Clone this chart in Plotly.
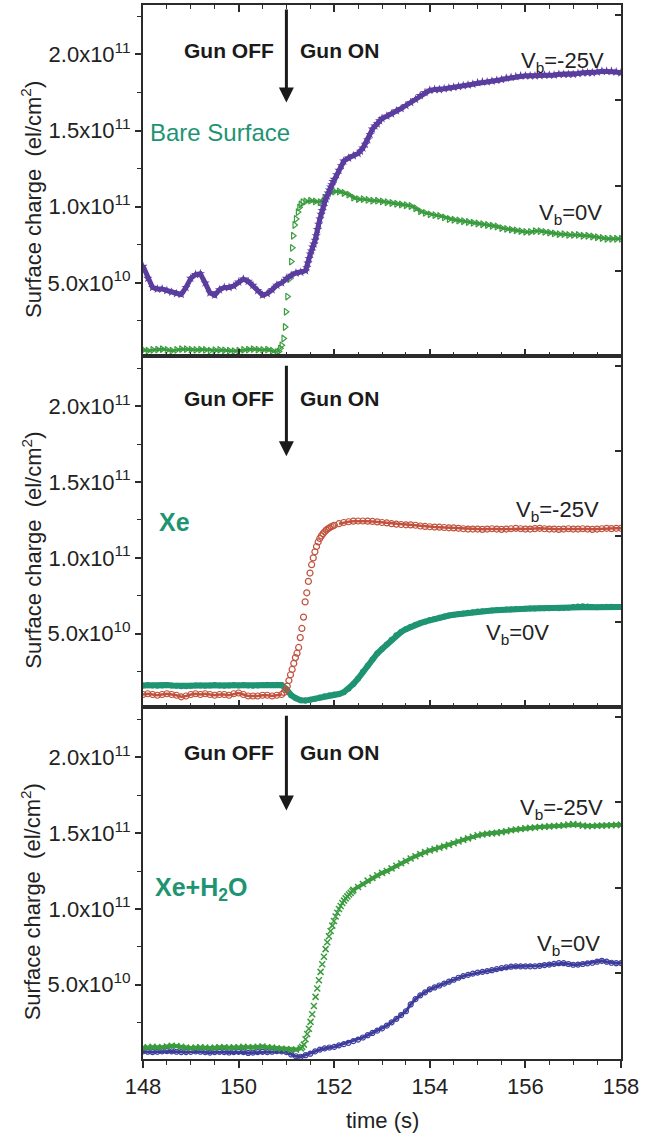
import plotly.graph_objects as go

# ---------------- data (surface charge in units of 1e10 el/cm^2) ----------------
# common 0.1 s sampling grid, 148.0 ... 158.0 s
t_grid = [round(148.0 + 0.1 * i, 1) for i in range(101)]

# Panel 1: Bare surface
bare_vb25 = [6.1, 5.3, 4.7, 4.6, 4.6, 4.5, 4.4, 4.3, 4.25, 4.7,
             5.3, 5.55, 5.6, 5.0, 4.35, 4.2, 4.55, 4.7, 4.7, 4.8,
             5.05, 5.25, 5.1, 4.85, 4.5, 4.2, 4.3, 4.55, 4.85, 5.0,
             5.3, 5.5, 5.65, 5.7, 5.8, 6.9, 7.8, 9.2, 10.3, 11.1,
             11.8, 12.4, 13.0, 13.2, 13.35, 13.5, 13.85, 14.4, 15.1, 15.45,
             15.8, 15.95, 16.1, 16.3, 16.45, 16.65, 16.85, 17.05, 17.3, 17.5,
             17.65, 17.7, 17.7, 17.75, 17.8, 17.85, 17.9, 17.95, 18.0, 18.05,
             18.15, 18.2, 18.2, 18.25, 18.3, 18.35, 18.45, 18.5, 18.55, 18.6,
             18.6, 18.6, 18.6, 18.62, 18.65, 18.65, 18.65, 18.7, 18.7, 18.7,
             18.7, 18.75, 18.8, 18.8, 18.8, 18.85, 18.9, 18.9, 18.9, 18.85,
             18.8]
bare_vb25_rise_t = [151.425, 151.45, 151.475, 151.525, 151.55, 151.575, 151.625, 151.65,
                    151.675, 151.725, 151.75, 151.775, 151.825, 151.85, 151.875, 151.925,
                    151.95, 151.975, 152.05, 152.15, 152.55, 152.65, 152.75, 152.85, 152.95]
bare_vb25_rise_v = [6.0, 6.3, 6.6, 7.1, 7.35, 7.55, 8.1, 8.5,
                    8.85, 9.5, 9.75, 10.0, 10.5, 10.7, 10.9, 11.3,
                    11.45, 11.65, 12.1, 12.7, 13.65, 14.1, 14.75, 15.3, 15.65]

bare_vb0 = [0.6, 0.55, 0.6, 0.62, 0.65, 0.6, 0.55, 0.6, 0.65, 0.65,
            0.62, 0.6, 0.62, 0.6, 0.55, 0.58, 0.6, 0.57, 0.55, 0.52,
            0.55, 0.6, 0.62, 0.65, 0.62, 0.6, 0.62, 0.55, 0.45, None,
            None, None, None, None, 10.35, 10.4, 10.35, 10.3, 10.6, 10.9,
            11.0, 11.0, 10.9, 10.8, 10.6, 10.5, 10.5, 10.45, 10.4, 10.4,
            10.35, 10.3, 10.25, 10.2, 10.15, 10.1, 10.05, 9.9, 9.7, 9.6,
            9.5, 9.45, 9.4, 9.3, 9.2, 9.15, 9.1, 9.05, 9.0, 8.95,
            8.9, 8.85, 8.8, 8.75, 8.7, 8.6, 8.55, 8.5, 8.45, 8.4,
            8.35, 8.35, 8.4, 8.4, 8.35, 8.3, 8.25, 8.2, 8.2, 8.15,
            8.15, 8.15, 8.1, 8.1, 8.05, 8.0, 7.95, 7.9, 7.9, 7.9,
            7.9]
bare_vb0_rise_t = [150.84, 150.87, 150.9, 150.94, 150.97, 150.99, 151.02, 151.06, 151.1,
                   151.12, 151.14, 151.17, 151.2, 151.24, 151.27, 151.3, 151.34]
bare_vb0_rise_v = [0.5, 0.7, 0.9, 1.35, 2.1, 3.1, 4.1, 5.25, 6.4,
                   7.3, 8.1, 8.8, 9.2, 9.65, 9.95, 10.15, 10.3]

# Panel 2: Xe
xe_vb25 = [1.0, 1.05, 1.0, 0.95, 1.0, 1.05, 1.0, 0.95, 0.85, 0.9,
           1.0, 1.05, 1.0, 1.05, 1.0, 0.95, 1.0, 1.0, 0.95, 1.05,
           1.1, 1.0, 0.9, 0.9, 0.9, 0.95, 0.95, 0.9, 0.95, 1.0,
           None, None, None, None, None, None, None, None, None, None,
           None, 12.25, 12.33, 12.38, 12.42, 12.43, 12.43, 12.42, 12.4, 12.37,
           12.33, 12.3, 12.25, 12.22, 12.2, 12.18, 12.17, 12.15, 12.1, 12.07,
           12.05, 12.03, 12.02, 12.0, 11.98, 11.97, 11.95, 11.92, 11.9, 11.9,
           11.9, 11.88, 11.9, 11.92, 11.9, 11.88, 11.9, 11.92, 11.95, 11.92,
           11.9, 11.9, 11.93, 11.95, 11.92, 11.9, 11.9, 11.88, 11.9, 11.92,
           11.9, 11.9, 11.92, 11.9, 11.88, 11.9, 11.92, 11.95, 11.93, 11.95,
           11.95]
xe_vb25_rise_t = [150.95, 150.984, 151.018, 151.052, 151.086, 151.12, 151.154, 151.188,
                  151.222, 151.256, 151.29, 151.324, 151.358, 151.392, 151.426, 151.46,
                  151.494, 151.528, 151.562, 151.596, 151.63, 151.664, 151.698, 151.732,
                  151.766, 151.8, 151.834, 151.868, 151.902, 151.936, 151.97, 152.004]
xe_vb25_rise_v = [1.14, 1.3, 1.55, 1.92, 2.3, 2.65, 3.05, 3.43,
                  3.72, 4.1, 4.75, 5.35, 6.1, 7.1, 7.7, 8.45,
                  9.0, 9.55, 10.0, 10.4, 10.75, 11.05, 11.28, 11.45,
                  11.6, 11.72, 11.83, 11.92, 11.98, 12.05, 12.1, 12.15]

xe_vb0 = [1.6, 1.62, 1.6, 1.58, 1.6, 1.62, 1.6, 1.58, 1.55, 1.55,
          1.58, 1.6, 1.6, 1.58, 1.6, 1.62, 1.6, 1.58, 1.6, 1.62,
          1.6, 1.62, 1.6, 1.58, 1.6, 1.62, 1.65, 1.63, 1.65, 1.62,
          1.35, 0.95, 0.75, 0.62, 0.6, 0.65, 0.72, 0.8, 0.88, 0.95,
          1.0, 1.03, 1.15, 1.38, 1.69, 2.05, 2.5, 2.9, 3.3, 3.7,
          4.0, 4.3, 4.6, 4.9, 5.12, 5.3, 5.46, 5.6, 5.7, 5.8,
          5.9, 5.98, 6.06, 6.14, 6.2, 6.25, 6.3, 6.34, 6.38, 6.42,
          6.46, 6.48, 6.5, 6.53, 6.56, 6.58, 6.6, 6.62, 6.63, 6.64,
          6.65, 6.66, 6.67, 6.68, 6.69, 6.69, 6.7, 6.69, 6.7, 6.72,
          6.76, 6.8, 6.82, 6.8, 6.76, 6.74, 6.76, 6.78, 6.78, 6.76,
          6.77]

# Panel 3: Xe + H2O
xeh2o_vb25 = [0.85, 0.87, 0.9, 0.88, 0.87, 0.92, 0.97, 0.95, 0.9, 0.85,
              0.82, 0.85, 0.87, 0.85, 0.83, 0.85, 0.88, 0.87, 0.85, 0.87,
              0.88, 0.9, 0.88, 0.87, 0.9, 0.92, 0.88, 0.85, 0.8, 0.78,
              0.75, 0.72, 0.72, 0.8, None, None, None, None, None, None,
              None, None, None, None, 11.26, 11.45, 11.65, 11.87, 12.05, 12.22,
              12.38, 12.5, 12.68, 12.85, 13.02, 13.17, 13.33, 13.48, 13.62, 13.75,
              13.86, 13.95, 14.04, 14.13, 14.23, 14.34, 14.45, 14.56, 14.66, 14.76,
              14.86, 14.92, 14.96, 14.99, 15.02, 15.07, 15.13, 15.19, 15.24, 15.28,
              15.32, 15.35, 15.38, 15.41, 15.43, 15.45, 15.47, 15.49, 15.52, 15.57,
              15.6, 15.56, 15.5, 15.46, 15.47, 15.49, 15.5, 15.51, 15.53, 15.55,
              15.55]
xeh2o_vb25_rise_t = [151.33, 151.365, 151.4, 151.435, 151.47, 151.505, 151.54, 151.575,
                     151.61, 151.645, 151.68, 151.715, 151.75, 151.785, 151.82, 151.855,
                     151.89, 151.925, 151.96, 151.995, 152.03, 152.065, 152.1, 152.135,
                     152.17, 152.205, 152.24, 152.275, 152.31, 152.345, 152.38]
xeh2o_vb25_rise_v = [0.9, 1.05, 1.4, 1.75, 2.1, 2.55, 3.05, 3.6,
                     4.2, 4.75, 5.3, 5.85, 6.35, 6.85, 7.35, 7.8,
                     8.2, 8.55, 8.9, 9.2, 9.5, 9.75, 10.0, 10.2,
                     10.4, 10.55, 10.7, 10.83, 10.95, 11.06, 11.17]

xeh2o_vb0 = [0.6, 0.58, 0.55, 0.58, 0.6, 0.62, 0.6, 0.58, 0.55, 0.55,
             0.57, 0.6, 0.58, 0.55, 0.52, 0.55, 0.57, 0.55, 0.53, 0.55,
             0.57, 0.55, 0.5, 0.52, 0.55, 0.57, 0.55, 0.58, 0.62, 0.6,
             0.55, 0.4, 0.28, 0.25, 0.35, 0.45, 0.6, 0.72, 0.8, 0.86,
             0.9, 1.0, 1.08, 1.17, 1.28, 1.38, 1.52, 1.67, 1.82, 1.97,
             2.12, 2.3, 2.52, 2.75, 3.0, 3.25, 3.7, 4.05, 4.3, 4.5,
             4.7, 4.82, 4.95, 5.07, 5.2, 5.33, 5.46, 5.57, 5.65, 5.73,
             5.8, 5.85, 5.9, 5.96, 6.03, 6.1, 6.15, 6.19, 6.21, 6.21,
             6.21, 6.21, 6.22, 6.25, 6.3, 6.33, 6.38, 6.42, 6.42, 6.37,
             6.32, 6.33, 6.37, 6.41, 6.45, 6.52, 6.58, 6.52, 6.45, 6.42,
             6.43]

UNIT = 1e10
y_tick_vals = [5e10, 1e11, 1.5e11, 2e11]
y_tick_text = ["5.0x10<sup>10</sup>", "1.0x10<sup>11</sup>", "1.5x10<sup>11</sup>", "2.0x10<sup>11</sup>"]
y_minor_vals = [2.5e10, 7.5e10, 1.25e11, 1.75e11, 2.25e11]
x_tick_vals = [148, 150, 152, 154, 156, 158]

# ---------------- styling ----------------
FONT = "Liberation Sans, Arial, Helvetica, sans-serif"
AX = "#2b2b2b"
TEAL = "#1e9473"
PURPLE = "#5a3d9e"
GREEN = "#3a9c3e"
RED = "#c1523d"
BLUE = "#3d3d9e"


def scaled(vals):
    return [None if v is None else v * UNIT for v in vals]


fig = go.Figure()


def add_series(t, v, color, symbol, size, lw, xa, ya, mode="lines+markers", line_w=0):
    fig.add_trace(go.Scatter(
        x=t, y=scaled(v), mode=mode, xaxis=xa, yaxis=ya, showlegend=False,
        connectgaps=False, hoverinfo="skip",
        line=dict(color=color, width=line_w),
        marker=dict(symbol=symbol, size=size, color=color, line=dict(color=color, width=lw)),
    ))


# panel 1
add_series(t_grid, bare_vb0, GREEN, "triangle-right-open", 6, 1.2, "x", "y", line_w=3)
add_series(bare_vb0_rise_t, bare_vb0_rise_v, GREEN, "triangle-right-open", 6, 1.2, "x", "y", mode="markers")
add_series(t_grid, bare_vb25, PURPLE, "star", 7, 0, "x", "y", line_w=5)
add_series(bare_vb25_rise_t, bare_vb25_rise_v, PURPLE, "star", 7, 0, "x", "y", mode="markers")
# panel 2
add_series(t_grid, xe_vb0, TEAL, "circle", 6, 0, "x2", "y2", line_w=6)
add_series(t_grid, xe_vb25, RED, "circle-open", 6, 1.2, "x2", "y2", line_w=2.5)
add_series(xe_vb25_rise_t, xe_vb25_rise_v, RED, "circle-open", 6, 1.2, "x2", "y2", mode="markers")
# panel 3
add_series(t_grid, xeh2o_vb0, BLUE, "circle-open", 5, 1.2, "x3", "y3", line_w=3)
add_series(t_grid, xeh2o_vb25, GREEN, "x-thin-open", 6, 1.5, "x3", "y3", line_w=4)
add_series(xeh2o_vb25_rise_t, xeh2o_vb25_rise_v, GREEN, "x-thin-open", 6, 1.5, "x3", "y3", mode="markers")

# empty traces to register right-hand overlay axes
for ya, xa in (("y4", "x"), ("y5", "x2"), ("y6", "x3")):
    fig.add_trace(go.Scatter(x=[], y=[], xaxis=xa, yaxis=ya, showlegend=False, hoverinfo="skip"))

# ---------------- axes ----------------
doms = {1: [0.667, 1.0], 2: [0.3343, 0.667], 3: [0.0, 0.3343]}
yr = {1: [0.2e10, 23.25e10], 2: [0.2e10, 23.3e10], 3: [0.1e10, 23.35e10]}

layout = dict(
    width=665, height=1138,
    margin=dict(l=143, r=44, t=3, b=79),
    paper_bgcolor="white", plot_bgcolor="white",
    font=dict(family=FONT, size=22, color="#222222"),
    showlegend=False,
)

for i in (1, 2, 3):
    xs = "xaxis" if i == 1 else f"xaxis{i}"
    ys = "yaxis" if i == 1 else f"yaxis{i}"
    yid = "y" if i == 1 else f"y{i}"
    layout[xs] = dict(
        domain=[0, 1], anchor=yid, range=[148, 158],
        showline=True, linecolor=AX, linewidth=2,
        mirror=("ticks" if i == 1 else True),
        ticks=("outside" if i == 3 else "inside"), ticklen=7, tickwidth=1.5, tickcolor=AX,
        tickmode="array", tickvals=x_tick_vals,
        showticklabels=(i == 3), tickfont=dict(size=22, family=FONT, color="#222222"),
        minor=dict(ticks=("outside" if i == 3 else "inside"), dtick=0.5, tick0=148,
                   ticklen=4, tickwidth=1.2, tickcolor=AX, showgrid=False),
        showgrid=False, zeroline=False,
    )
    layout[ys] = dict(
        domain=doms[i], anchor=("x" if i == 1 else f"x{i}"), range=yr[i],
        showline=True, linecolor=AX, linewidth=2, mirror=False,
        ticks="outside", ticklen=6, tickwidth=1.5, tickcolor=AX,
        tickmode="array", tickvals=y_tick_vals, ticktext=y_tick_text,
        tickfont=dict(size=22, family=FONT, color="#222222"),
        minor=dict(ticks="outside", tickvals=y_minor_vals, ticklen=4, tickwidth=1.2,
                   tickcolor=AX, showgrid=False),
        showgrid=False, zeroline=False,
    )
    rs = f"yaxis{i + 3}"
    layout[rs] = dict(
        overlaying=yid, side="right", anchor=("x" if i == 1 else f"x{i}"),
        range=[0, 2.06e11], showline=True, linecolor=AX, linewidth=2,
        ticks="inside", ticklen=6, tickwidth=1.5, tickcolor=AX,
        tickmode="array", tickvals=[5e10, 1e11, 1.5e11, 2e11],
        showticklabels=False, showgrid=False, zeroline=False,
    )

fig.update_layout(**layout)

# ---------------- annotations ----------------
ann = []
gun_y = {1: 20.26, 2: 20.53, 3: 20.33}
arrow = {1: (16.85, 23.05), 2: (16.7, 22.76), 3: (16.5, 22.85)}
for i in (1, 2, 3):
    xr = "x" if i == 1 else f"x{i}"
    yr_ = "y" if i == 1 else f"y{i}"
    ann.append(dict(x=150.78, y=gun_y[i] * UNIT, xref=xr, yref=yr_, text="<b>Gun OFF</b>",
                    showarrow=False, xanchor="right", yanchor="middle",
                    font=dict(size=21, family=FONT, color="#1a1a1a")))
    ann.append(dict(x=151.25, y=gun_y[i] * UNIT, xref=xr, yref=yr_, text="<b>Gun ON</b>",
                    showarrow=False, xanchor="left", yanchor="middle",
                    font=dict(size=21, family=FONT, color="#1a1a1a")))
    tip, tail = arrow[i]
    ann.append(dict(x=151.0, y=tip * UNIT, ax=151.0, ay=tail * UNIT, xref=xr, yref=yr_,
                    axref=xr, ayref=yr_, text="", showarrow=True,
                    arrowhead=2, arrowsize=1.0, arrowwidth=3, arrowcolor="#1a1a1a"))
    # y-axis title
    ann.append(dict(x=-0.234, y=0.445, xref="paper", yref=f"{yr_} domain",
                    text="Surface charge  (el/cm<sup>2</sup>)", textangle=-90, showarrow=False,
                    xanchor="center", yanchor="middle",
                    font=dict(size=22, family=FONT, color="#222222")))

# sample labels
ann.append(dict(x=148.1, y=14.86 * UNIT, xref="x", yref="y", text="Bare Surface", showarrow=False,
                xanchor="left", yanchor="middle", font=dict(size=24, family=FONT, color=TEAL)))
ann.append(dict(x=148.29, y=12.39 * UNIT, xref="x2", yref="y2", text="<b>Xe</b>", showarrow=False,
                xanchor="left", yanchor="middle", font=dict(size=25, family=FONT, color=TEAL)))
ann.append(dict(x=148.2, y=11.3 * UNIT, xref="x3", yref="y3", text="<b>Xe+H<sub>2</sub>O</b>",
                showarrow=False, xanchor="left", yanchor="middle",
                font=dict(size=25, family=FONT, color=TEAL)))

# bias labels
vb = [("x", "y", 157.69, 19.5, "-25V"), ("x", "y", 157.64, 9.5, "0V"),
      ("x2", "y2", 157.58, 13.1, "-25V"), ("x2", "y2", 156.54, 5.0, "0V"),
      ("x3", "y3", 157.67, 16.6, "-25V"), ("x3", "y3", 157.6, 7.6, "0V")]
for xr, yr_, xv, yv, lab in vb:
    ann.append(dict(x=xv, y=yv * UNIT, xref=xr, yref=yr_, text=f"V<sub>b</sub>={lab}",
                    showarrow=False, xanchor="right", yanchor="middle",
                    font=dict(size=22, family=FONT, color="#222222")))

# x-axis title
ann.append(dict(x=0.5, y=-0.058, xref="paper", yref="paper", text="time (s)", showarrow=False,
                xanchor="center", yanchor="middle", font=dict(size=22, family=FONT, color="#222222")))

fig.update_layout(annotations=ann)
fig.write_html("out.html")
